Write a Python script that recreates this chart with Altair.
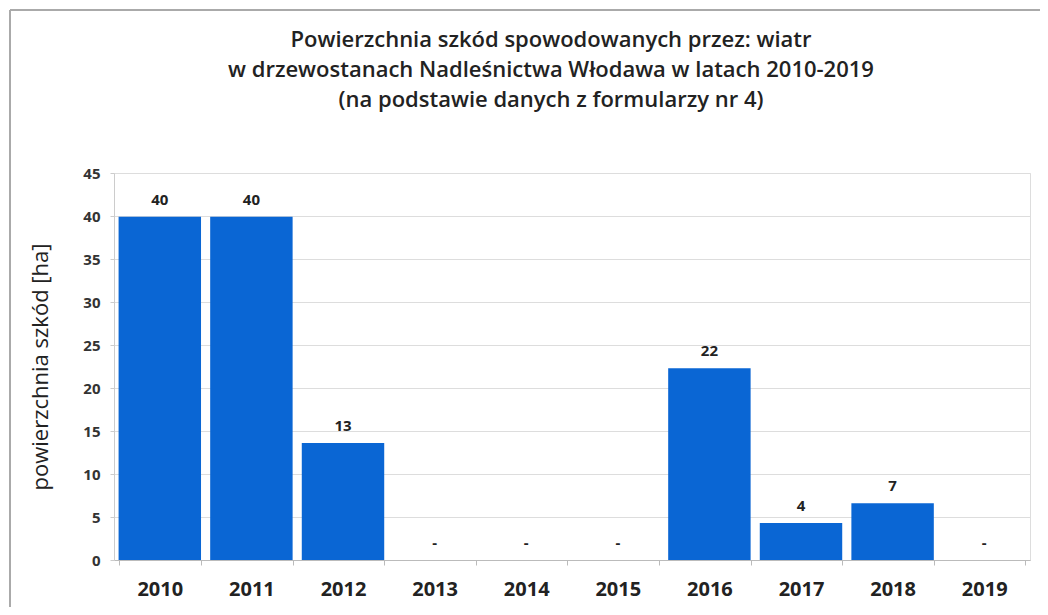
import altair as alt
import pandas as pd

years = ["2010", "2011", "2012", "2013", "2014", "2015", "2016", "2017", "2018", "2019"]
values = [39.9, 39.9, 13.6, 0, 0, 0, 22.3, 4.3, 6.6, 0]
labels = ["40", "40", "13", "-", "-", "-", "22", "4", "7", "-"]

title_lines = [
    "Powierzchnia szkód spowodowanych przez: wiatr",
    "w drzewostanach Nadleśnictwa Włodawa w latach 2010-2019",
    "(na podstawie danych z formularzy nr 4)",
]
y_title = "powierzchnia szkód [ha]"

df = pd.DataFrame({"year": years, "value": values, "label": labels})

W, H = 916, 387
FONT = "Open Sans"

x_enc = alt.X(
    "year:N",
    sort=years,
    title=None,
    scale=alt.Scale(paddingInner=0.1, paddingOuter=0.05),
    axis=alt.Axis(
        labelAngle=0,
        labelFont=FONT,
        labelFontSize=20,
        labelFontWeight="bold",
        labelColor="#222222",
        labelPadding=14,
        tickBand="extent",
        tickSize=5,
        tickColor="#bbbbbb",
        domainColor="#bbbbbb",
        grid=False,
    ),
)

y_enc = alt.Y(
    "value:Q",
    title=y_title,
    scale=alt.Scale(domain=[0, 45], nice=False),
    axis=alt.Axis(
        values=[0, 5, 10, 15, 20, 25, 30, 35, 40, 45],
        labelFont=FONT,
        labelFontSize=15,
        labelFontWeight="bold",
        labelColor="#333333",
        labelPadding=10,
        tickSize=4,
        tickColor="#cccccc",
        domainColor="#cccccc",
        gridColor="#dddddd",
        titleFont=FONT,
        titleFontSize=22,
        titleFontWeight=500,
        titleColor="#222222",
        titlePadding=30,
    ),
)

bars = alt.Chart(df).mark_bar(color="#0a66d4").encode(x=x_enc, y=y_enc)

text = alt.Chart(df).mark_text(
    font=FONT, fontSize=15, fontWeight="bold", color="#222222", dy=-17, baseline="middle"
).encode(x=alt.X("year:N", sort=years), y="value:Q", text="label:N")

frame_top = alt.Chart(df).mark_rule(color="#aaaaaa", strokeWidth=2).encode(
    x=alt.value(-104), x2=alt.value(960), y=alt.value(-163)
)
frame_left = alt.Chart(df).mark_rule(color="#aaaaaa", strokeWidth=2).encode(
    x=alt.value(-104), y=alt.value(-163), y2=alt.value(460)
)

chart = (
    alt.layer(bars, text, frame_top, frame_left)
    .properties(
        width=W,
        height=H,
        autosize=alt.AutoSizeParams(type="none"),
        padding={"left": 106, "top": 165, "right": 10, "bottom": 47},
        title=alt.TitleParams(
            text=title_lines,
            font=FONT,
            fontSize=22,
            fontWeight=600,
            color="#222222",
            anchor="middle",
            frame="group",
            dx=-21,
            offset=-103,
            lineHeight=30,
        ),
    )
    .configure_view(stroke=None)
    .configure(background="white")
)

chart.save("out.html", embed_options={"renderer": "svg", "actions": False})
